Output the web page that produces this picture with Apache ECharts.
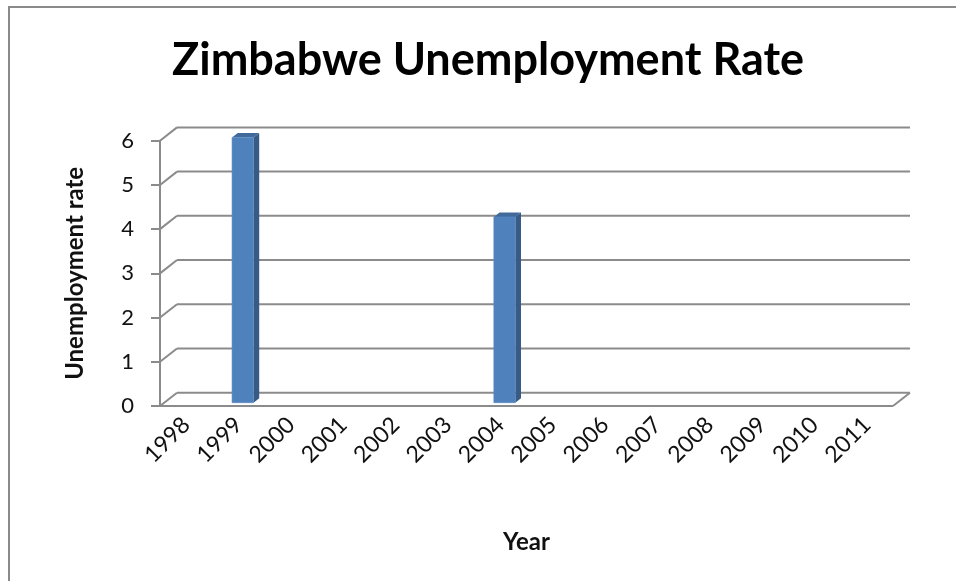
<!DOCTYPE html>
<html>
<head>
<meta charset="utf-8">
<title>Zimbabwe Unemployment Rate</title>
<script src="https://cdn.jsdelivr.net/npm/echarts@6/dist/echarts.min.js"></script>
<style>
  html, body { margin: 0; padding: 0; background: #ffffff; }
  #chart { width: 956px; height: 581px; }
</style>
</head>
<body>
<div id="chart"></div>
<script>
// Years on the category axis
const years = ['1998', '1999', '2000', '2001', '2002', '2003', '2004',
               '2005', '2006', '2007', '2008', '2009', '2010', '2011'];
// Unemployment rate per year (blank years have no reported value)
const unemploymentRate = [null, 6, null, null, null, null, 4.2,
                          null, null, null, null, null, null, null];
// Value-axis tick values
const yTicks = [0, 1, 2, 3, 4, 5, 6];

// Oblique projection used to fake the 3D column look
const DEPTH_X = 17;      // horizontal shift from the front plane to the back wall
const DEPTH_Y = -13.3;   // vertical shift from the front plane to the back wall
const BAR_FRONT = 0.25;  // depth fraction where a column's front face sits
const BAR_BACK = 0.585;  // depth fraction where a column's back face sits
const BAR_WIDTH_RATIO = 0.41;

const GRID_COLOR = '#8b8b8b';
const TEXT_COLOR = '#111111';
const FONT = 'Lato, "Open Sans", "Liberation Sans", sans-serif';

const chart = echarts.init(document.getElementById('chart'), null, { renderer: 'canvas' });

// Walls and floor: back-wall gridlines, side-wall diagonals, floor outline
function renderFrame(params, api) {
  const cs = params.coordSys;
  const x0 = cs.x, x1 = cs.x + cs.width;
  const v = api.value(1);
  const y = api.coord([0, v])[1];
  const style = { stroke: GRID_COLOR, lineWidth: 2, fill: null };
  const children = [
    { type: 'line', shape: { x1: x0 + DEPTH_X, y1: y + DEPTH_Y, x2: x1 + DEPTH_X, y2: y + DEPTH_Y }, style },
    { type: 'line', shape: { x1: x0, y1: y, x2: x0 + DEPTH_X, y2: y + DEPTH_Y }, style }
  ];
  if (v === 0) {
    children.push(
      { type: 'line', shape: { x1: x0, y1: y, x2: x1, y2: y }, style },
      { type: 'line', shape: { x1: x1, y1: y, x2: x1 + DEPTH_X, y2: y + DEPTH_Y }, style }
    );
  }
  return { type: 'group', children };
}

// 3D-looking column: front face, right side face and top face
function renderColumn(params, api) {
  const val = api.value(1);
  if (val == null || isNaN(val)) return null;
  const idx = api.value(0);
  const base = api.coord([idx, 0]);
  const top = api.coord([idx, val]);
  const band = api.size([1, 0])[0];
  const w = band * BAR_WIDTH_RATIO;
  const fx = DEPTH_X * BAR_FRONT, fy = DEPTH_Y * BAR_FRONT;
  const dx = DEPTH_X * (BAR_BACK - BAR_FRONT), dy = DEPTH_Y * (BAR_BACK - BAR_FRONT);
  const xl = base[0] - w / 2 + fx, xr = base[0] + w / 2 + fx;
  const yb = base[1] + fy, yt = top[1] + fy;
  return {
    type: 'group',
    children: [
      { type: 'polygon', shape: { points: [[xr, yt], [xr, yb], [xr + dx, yb + dy], [xr + dx, yt + dy]] },
        style: { fill: '#375b85' } },
      { type: 'polygon', shape: { points: [[xl, yt], [xr, yt], [xr + dx, yt + dy], [xl + dx, yt + dy]] },
        style: { fill: '#416a9b' } },
      { type: 'rect', shape: { x: xl, y: yt, width: xr - xl, height: yb - yt },
        style: { fill: '#4f81bd', stroke: '#5a8ac3', lineWidth: 0.6 } }
    ]
  };
}

const option = {
  backgroundColor: '#ffffff',
  animation: false,
  title: {
    text: 'Zimbabwe Unemployment Rate',
    left: 167,
    top: 33,
    textStyle: { fontFamily: FONT, fontSize: 45, fontWeight: 'bold', color: '#000000' }
  },
  grid: { left: 160, right: 63, top: 140.7, bottom: 175, containLabel: false },
  xAxis: {
    type: 'category',
    data: years,
    axisLine: { show: false },
    axisTick: { show: false },
    splitLine: { show: false },
    axisLabel: {
      interval: 0, rotate: 45, margin: 15,
      fontFamily: FONT, fontSize: 23, color: TEXT_COLOR
    },
    name: 'Year',
    nameLocation: 'middle',
    nameGap: 124,
    nameTextStyle: { fontFamily: FONT, fontSize: 24, fontWeight: 'bold', color: TEXT_COLOR }
  },
  yAxis: {
    type: 'value',
    min: 0, max: 6, interval: 1,
    axisLine: { show: true, lineStyle: { color: GRID_COLOR, width: 2 } },
    axisTick: { show: true, inside: false, length: 9, lineStyle: { color: GRID_COLOR, width: 2 } },
    splitLine: { show: false },
    axisLabel: { margin: 26, fontFamily: FONT, fontSize: 22, color: TEXT_COLOR },
    name: 'Unemployment rate',
    nameLocation: 'middle',
    nameRotate: 90,
    nameGap: 73,
    nameTextStyle: { fontFamily: FONT, fontSize: 24, fontWeight: 'bold', color: TEXT_COLOR }
  },
  graphic: [
    { type: 'line', shape: { x1: 8, y1: 7, x2: 956, y2: 7 }, style: { stroke: '#8a8a8a', lineWidth: 2 }, silent: true },
    { type: 'line', shape: { x1: 9, y1: 6, x2: 9, y2: 581 }, style: { stroke: '#8a8a8a', lineWidth: 2 }, silent: true }
  ],
  series: [
    {
      name: 'frame',
      type: 'custom',
      coordinateSystem: 'cartesian2d',
      silent: true,
      z: 1,
      encode: { x: 0, y: 1 },
      data: yTicks.map(v => [0, v]),
      renderItem: renderFrame
    },
    {
      name: 'Unemployment rate',
      type: 'custom',
      coordinateSystem: 'cartesian2d',
      z: 3,
      encode: { x: 0, y: 1 },
      data: years.map((y, i) => [i, unemploymentRate[i]]),
      renderItem: renderColumn
    }
  ]
};

chart.setOption(option);
</script>
</body>
</html>
